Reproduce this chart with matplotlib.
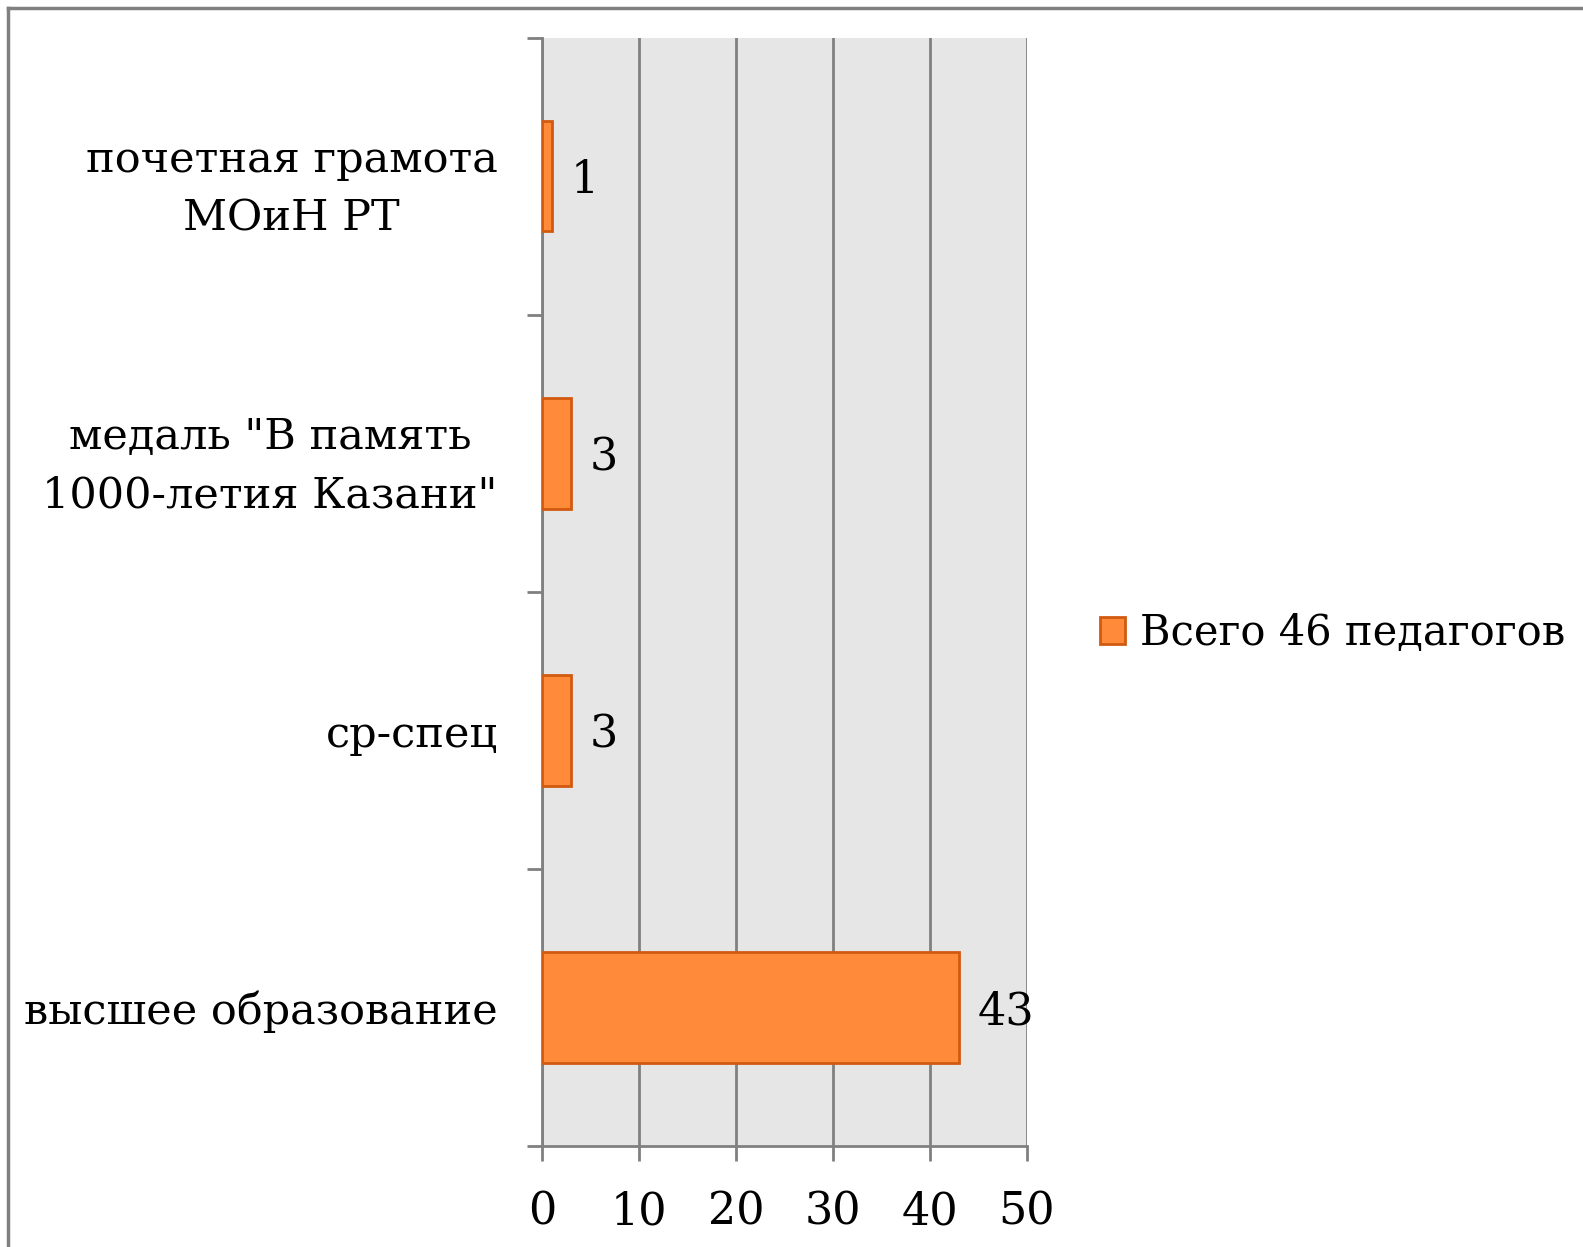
import matplotlib
matplotlib.use("Agg")
import matplotlib.pyplot as plt
from matplotlib.lines import Line2D
from matplotlib.patches import Patch

categories = ["высшее образование", "ср-спец", "медаль \"В память\n1000-летия Казани\"", "почетная грамота\nМОиН РТ"]
values = [43, 3, 3, 1]
series_name = "Всего 46 педагогов"
xticks = [0, 10, 20, 30, 40, 50]

plt.rcParams['font.family'] = ['DejaVu Serif']
FS = 31

W, H = 1583, 1247
fig = plt.figure(figsize=(W / 100, H / 100), dpi=100)
top_px, bot_px, left_px, right_px = 37.5, 1146, 542, 1027
ax = fig.add_axes([left_px / W, 1 - bot_px / H, (right_px - left_px) / W, (bot_px - top_px) / H])
ax.set_facecolor('#e6e6e6')

grid_c = '#808080'
y = list(range(len(categories)))
bars = ax.barh(y, values, height=0.4, color='#fe8a3a', edgecolor='#d25a10', linewidth=2, zorder=3)
for yi, v in zip(y, values):
    ax.text(v + 1.9, yi, str(v), va='center_baseline', ha='left', fontsize=FS + 1, zorder=4)

ax.set_xlim(0, 50)
ax.set_ylim(-0.5, len(categories) - 0.5)
ax.set_xticks(xticks)
ax.set_xticklabels([str(t) for t in xticks], fontsize=FS + 1)
ax.set_yticks(y)
ax.set_yticklabels(categories, fontsize=FS, multialignment='center', linespacing=1.5)
ax.set_yticks([i - 0.5 for i in range(len(categories) + 1)], minor=True)
ax.tick_params(axis='y', which='major', length=0, pad=32)
ax.tick_params(axis='y', which='minor', length=11, width=2, color=grid_c, direction='out')
ax.tick_params(axis='x', which='major', length=11, width=2, color=grid_c, direction='out', pad=21)
ax.xaxis.grid(True, color=grid_c, linewidth=2, zorder=0)
ax.set_axisbelow(True)
for s in ['top', 'right']:
    ax.spines[s].set_visible(False)
for s in ['left', 'bottom']:
    ax.spines[s].set_color(grid_c)
    ax.spines[s].set_linewidth(2)

leg = fig.legend(handles=[Patch(facecolor='#fe8a3a', edgecolor='#d25a10', linewidth=2, label=series_name)],
                 loc='center left', bbox_to_anchor=(1100 / W, 1 - 633 / H), frameon=False,
                 fontsize=30, handlelength=0.6, handleheight=0.6, handletextpad=0.35, borderaxespad=0,
                 borderpad=0)

# outer chart frame
fig.add_artist(Line2D([7.5 / W, 7.5 / W], [0, 1 - 7.5 / H], transform=fig.transFigure, color='#808080', linewidth=2.5))
fig.add_artist(Line2D([7.5 / W, 1], [1 - 7.5 / H, 1 - 7.5 / H], transform=fig.transFigure, color='#808080', linewidth=2.5))

fig.savefig('out.png', dpi=100, facecolor='white')
